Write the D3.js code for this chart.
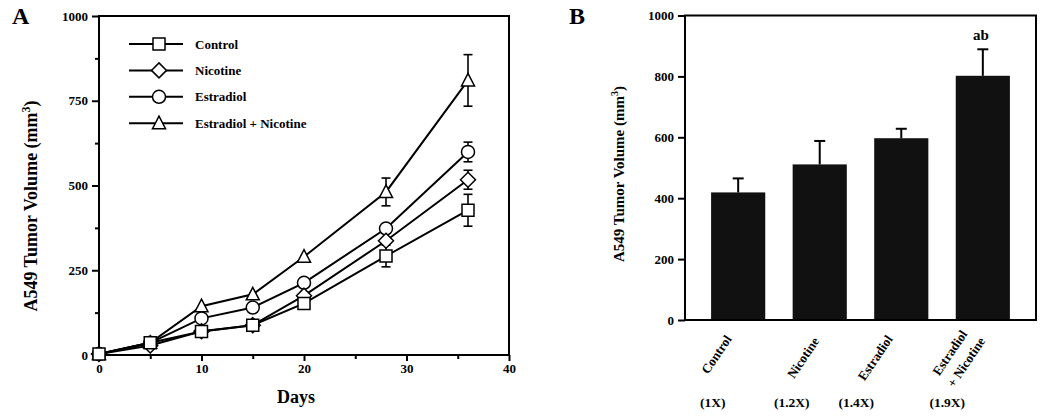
<!DOCTYPE html>
<html><head><meta charset="utf-8">
<script src="https://cdn.jsdelivr.net/npm/d3@7"></script>
<style>
body{margin:0;background:#fff;}
text{font-family:"Liberation Serif","Times New Roman",serif;font-weight:bold;fill:#000;}
</style></head>
<body><svg id="c" width="1050" height="420"></svg>
<script>
// ---------- Panel A data ----------
const days = [0, 5, 10, 15, 20, 28, 36];
const seriesNames = ["Control", "Nicotine", "Estradiol", "Estradiol + Nicotine"];
const seriesSymbols = ["square", "diamond", "circle", "triangle"];
const controlVals   = [3, 36, 69, 88, 152, 292, 427];
const nicotineVals  = [3, 28, 70, 88, 175, 337, 517];
const estradiolVals = [3, 36, 108, 140, 213, 373, 599];
const estNicVals    = [3, 36, 144, 179, 290, 481, 810];
const controlErr    = [0, 0, 0, 0, 0, 32, 47];
const nicotineErr   = [0, 0, 0, 0, 0, 0, 28];
const estradiolErr  = [0, 0, 0, 0, 0, 0, 29];
const estNicErr     = [0, 0, 0, 0, 0, 41, 76];
const yTicksA = [0, 250, 500, 750, 1000];
const yMinorA = [125, 375, 625, 875];
const xTicksA = [0, 10, 20, 30, 40];
const xMinorA = [5, 15, 25, 35];

// ---------- Panel B data ----------
const groups = ["Control", "Nicotine", "Estradiol", "Estradiol + Nicotine"];
const groupLines = [["Control"], ["Nicotine"], ["Estradiol"], ["Estradiol", "+ Nicotine"]];
const groupMeans = [419, 511, 597, 802];
const groupErrs  = [46, 77, 31, 87];
const foldLabels = ["(1X)", "(1.2X)", "(1.4X)", "(1.9X)"];
const sigLabels  = ["", "", "", "ab"];
const yTicksB = [0, 200, 400, 600, 800, 1000];

const svg = d3.select("#c");

// ================= Panel A =================
const A = {l: 99, r: 509, t: 16, b: 355};
const xA = d3.scaleLinear().domain([0, 40]).range([A.l, A.r]);
const yA = d3.scaleLinear().domain([0, 1000]).range([A.b, A.t]);
const gA = svg.append("g");

gA.append("rect").attr("x", A.l).attr("y", A.t).attr("width", A.r - A.l).attr("height", A.b - A.t)
  .attr("fill", "none").attr("stroke", "#000").attr("stroke-width", 2);

const yAxA = gA.append("g").attr("transform", `translate(${A.l},0)`)
  .call(d3.axisLeft(yA).tickValues(yTicksA).tickSize(7).tickPadding(4).tickFormat(d3.format("d")));
const yAxAm = gA.append("g").attr("transform", `translate(${A.l},0)`)
  .call(d3.axisLeft(yA).tickValues(yMinorA).tickSize(4).tickFormat(""));
const xAxA = gA.append("g").attr("transform", `translate(0,${A.b})`)
  .call(d3.axisBottom(xA).tickValues(xTicksA).tickSize(6).tickPadding(3).tickFormat(d3.format("d")));
const xAxAm = gA.append("g").attr("transform", `translate(0,${A.b})`)
  .call(d3.axisBottom(xA).tickValues(xMinorA).tickSize(4).tickFormat(""));
[yAxA, yAxAm, xAxA, xAxAm].forEach(ax => {
  ax.select(".domain").remove();
  ax.selectAll("line").attr("stroke", "#000").attr("stroke-width", 2);
  ax.selectAll("text").attr("font-size", 13).attr("font-family", "Liberation Serif").attr("font-weight", "bold").attr("fill", "#000");
});

function sym(type) {
  if (type === "square") return "M-6,-6H6V6H-6Z";
  if (type === "diamond") return "M0,-7.5L7.5,0L0,7.5L-7.5,0Z";
  if (type === "circle") return "M-6.5,0A6.5,6.5 0 1,0 6.5,0A6.5,6.5 0 1,0 -6.5,0Z";
  if (type === "triangle") return "M0,-7L6.5,5.5H-6.5Z";
}

const allVals = [controlVals, nicotineVals, estradiolVals, estNicVals];
const allErrs = [controlErr, nicotineErr, estradiolErr, estNicErr];
const line = d3.line().x(d => xA(d[0])).y(d => yA(d[1]));

allVals.forEach((vals, si) => {
  const pts = days.map((d, i) => [d, vals[i], allErrs[si][i]]);
  const g = gA.append("g");
  g.append("path").datum(pts).attr("d", line).attr("fill", "none").attr("stroke", "#000").attr("stroke-width", 2);
  pts.filter(p => p[2] > 0).forEach(p => {
    const x = xA(p[0]);
    g.append("line").attr("x1", x).attr("x2", x).attr("y1", yA(p[1] - p[2])).attr("y2", yA(p[1] + p[2]))
      .attr("stroke", "#000").attr("stroke-width", 1.6);
    [p[1] - p[2], p[1] + p[2]].forEach(v => {
      g.append("line").attr("x1", x - 4.5).attr("x2", x + 4.5).attr("y1", yA(v)).attr("y2", yA(v))
        .attr("stroke", "#000").attr("stroke-width", 1.6);
    });
  });
});
[3, 2, 1, 0].forEach(si => {
  days.forEach((d, i) => {
    gA.append("path").attr("d", sym(seriesSymbols[si]))
      .attr("transform", `translate(${xA(d)},${yA(allVals[si][i])})`)
      .attr("fill", "#fff").attr("stroke", "#000").attr("stroke-width", 1.5);
  });
});

const legY0 = 44, legStep = 26.4;
seriesNames.forEach((n, i) => {
  const y = legY0 + i * legStep;
  gA.append("line").attr("x1", 129).attr("x2", 183).attr("y1", y).attr("y2", y).attr("stroke", "#000").attr("stroke-width", 2);
  gA.append("path").attr("d", sym(seriesSymbols[i])).attr("transform", `translate(159,${y})`)
    .attr("fill", "#fff").attr("stroke", "#000").attr("stroke-width", 1.5);
  gA.append("text").attr("x", 195).attr("y", y + 4.5).attr("font-size", 13).text(n);
});

const ytA = gA.append("text").attr("transform", "translate(37,206) rotate(-90)").attr("text-anchor", "middle").attr("font-size", 18);
ytA.append("tspan").text("A549 Tumor Volume (mm");
ytA.append("tspan").attr("font-size", 12).attr("dy", -7).text("3");
ytA.append("tspan").attr("dy", 7).text(")");
gA.append("text").attr("x", 296).attr("y", 403).attr("text-anchor", "middle").attr("font-size", 18).text("Days");
gA.append("text").attr("x", 12).attr("y", 24).attr("font-size", 24).text("A");

// ================= Panel B =================
const B = {l: 685, r: 1036, t: 15.5, b: 320};
const xB = d3.scaleBand().domain(groups).range([B.l, B.r]).paddingInner(0.336).paddingOuter(0.32);
const yB = d3.scaleLinear().domain([0, 1000]).range([B.b, B.t]);
const gB = svg.append("g");

gB.selectAll("rect.bar").data(groups).join("rect").attr("class", "bar")
  .attr("x", d => xB(d)).attr("width", xB.bandwidth())
  .attr("y", (d, i) => yB(groupMeans[i])).attr("height", (d, i) => yB(0) - yB(groupMeans[i]))
  .attr("fill", "#111");
groups.forEach((g, i) => {
  const x = xB(g) + xB.bandwidth() / 2;
  gB.append("line").attr("x1", x).attr("x2", x).attr("y1", yB(groupMeans[i])).attr("y2", yB(groupMeans[i] + groupErrs[i]))
    .attr("stroke", "#000").attr("stroke-width", 2);
  gB.append("line").attr("x1", x - 5.5).attr("x2", x + 5.5).attr("y1", yB(groupMeans[i] + groupErrs[i])).attr("y2", yB(groupMeans[i] + groupErrs[i]))
    .attr("stroke", "#000").attr("stroke-width", 2);
  if (sigLabels[i]) gB.append("text").attr("x", x - 2).attr("y", yB(groupMeans[i] + groupErrs[i]) - 9)
    .attr("text-anchor", "middle").attr("font-size", 15).text(sigLabels[i]);
});

gB.append("rect").attr("x", B.l).attr("y", B.t).attr("width", B.r - B.l).attr("height", B.b - B.t)
  .attr("fill", "none").attr("stroke", "#000").attr("stroke-width", 2);

const yAxB = gB.append("g").attr("transform", `translate(${B.l},0)`)
  .call(d3.axisLeft(yB).tickValues(yTicksB).tickSize(7).tickPadding(4).tickFormat(d3.format("d")));
yAxB.select(".domain").remove();
yAxB.selectAll("line").attr("stroke", "#000").attr("stroke-width", 2);
yAxB.selectAll("text").attr("font-size", 13).attr("font-family", "Liberation Serif").attr("font-weight", "bold").attr("fill", "#000");

// rotated category labels and fold labels (per-label nudges in px)
const labelNudge = [[-6], [0], [-8], [-15, 3]];
const labelDrop  = [[0], [2], [0], [-5, 2]];
const foldShift = [-25.5, -28, -45, -35.5];
groups.forEach((g, i) => {
  const cx = xB(g) + xB.bandwidth() / 2;
  groupLines[i].forEach((ln, j) => {
    gB.append("text").attr("transform", `translate(${cx + labelNudge[i][j]},${339 + labelDrop[i][j]}) rotate(-56)`)
      .attr("text-anchor", "end").attr("font-size", 13).text(ln);
  });
  gB.append("text").attr("x", cx + foldShift[i]).attr("y", 407).attr("text-anchor", "middle").attr("font-size", 13.5).text(foldLabels[i]);
});

const ytB = gB.append("text").attr("transform", "translate(624,174) rotate(-90)").attr("text-anchor", "middle").attr("font-size", 15);
ytB.append("tspan").text("A549 Tumor Volume (mm");
ytB.append("tspan").attr("font-size", 10).attr("dy", -6).text("3");
ytB.append("tspan").attr("dy", 6).text(")");
gB.append("text").attr("x", 569).attr("y", 24).attr("font-size", 24).text("B");
</script></body></html>
